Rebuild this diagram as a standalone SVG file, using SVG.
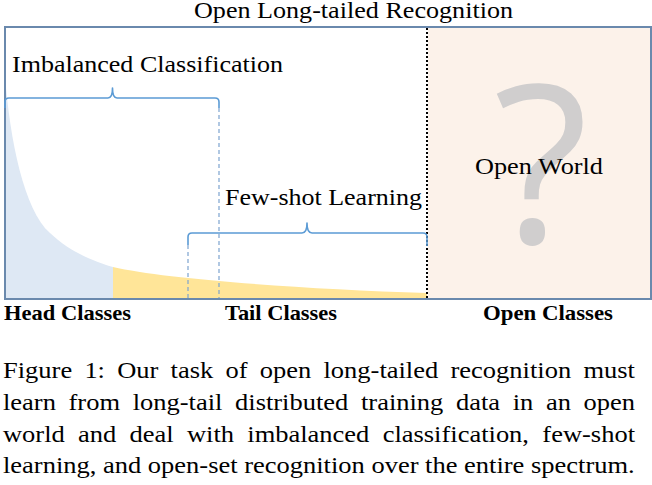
<svg xmlns="http://www.w3.org/2000/svg" width="652" height="485" viewBox="0 0 652 485">
  <style>
    text.serif { font-family: "Times New Roman", "Liberation Serif", Tinos, serif; fill: #000; }
    .lbl { font-size: 23px; }
    .bold { font-size: 21px; font-weight: bold; }
    .cap { font-size: 24px; }
    .brace { fill: none; stroke: #5B9BD5; stroke-width: 1.6; stroke-linejoin: round; }
    .dash { fill: none; stroke: #7CA3CF; stroke-width: 1.2; stroke-dasharray: 4 3; }
  </style>
  <rect width="652" height="485" fill="#ffffff"/>

  <g id="open-world">
    <rect x="428" y="28" width="222" height="270" fill="#FCF2EA"/>
    <text x="541" y="243" text-anchor="middle" font-family="'Open Sans', 'DejaVu Sans', sans-serif" font-size="220" fill="#D0CECE">?</text>
    <text class="serif" x="475" y="174" font-size="24" textLength="128" lengthAdjust="spacingAndGlyphs">Open World</text>
  </g>

  <g id="distribution">
    <path d="M5,76 C10,140 24,210 50,233 C70,252 95,262 113,267 L113,298 L5,298 Z" fill="#DEE8F4"/>
    <path d="M113,267 C165,279 300,289 427,293 L427,298 L113,298 Z" fill="#FFE598"/>
  </g>

  <g id="frame">
    <rect x="5" y="27" width="646" height="272" fill="none" stroke="#6A89AD" stroke-width="2"/>
  </g>

  <g id="connectors">
    <line x1="427" y1="28" x2="427" y2="298" stroke="#000" stroke-width="2" stroke-dasharray="2 2"/>
    <path class="brace" d="M5,108 L5,102 Q5,98 9,98 L108,98 Q112.5,98 112.5,88 Q112.5,98 117,98 L215,98 Q219,98 219,102 L219,108"/>
    <line class="dash" x1="219" y1="108" x2="219" y2="298"/>
    <path class="brace" d="M188,245 L188,237 Q188,233 192,233 L302,233 Q307,233 307,223 Q307,233 312,233 L423,233 Q427,233 427,237 L427,246"/>
    <line class="dash" x1="188" y1="245" x2="188" y2="298"/>
  </g>

  <g id="title">
    <text class="serif lbl" x="194" y="18" textLength="319" lengthAdjust="spacingAndGlyphs">Open Long-tailed Recognition</text>
  </g>
  <g id="imbalanced">
    <text class="serif lbl" x="12" y="72" textLength="271" lengthAdjust="spacingAndGlyphs">Imbalanced Classification</text>
  </g>
  <g id="fewshot">
    <text class="serif lbl" x="225" y="205" textLength="197" lengthAdjust="spacingAndGlyphs">Few-shot Learning</text>
  </g>
  <g id="head-classes">
    <text class="serif bold" x="4" y="320" textLength="127" lengthAdjust="spacingAndGlyphs">Head Classes</text>
  </g>
  <g id="tail-classes">
    <text class="serif bold" x="225" y="320" textLength="112" lengthAdjust="spacingAndGlyphs">Tail Classes</text>
  </g>
  <g id="open-classes">
    <text class="serif bold" x="483" y="320" textLength="130" lengthAdjust="spacingAndGlyphs">Open Classes</text>
  </g>

  <g id="caption" transform="translate(3,0) scale(1.104,1)">
    <text class="serif cap" y="378">
      <tspan x="0">Figure</tspan><tspan x="73.72">1:</tspan><tspan x="103.45">Our</tspan><tspan x="151.83">task</tspan><tspan x="201.55">of</tspan><tspan x="232.6">open</tspan><tspan x="290.32">long-tailed</tspan><tspan x="405.37">recognition</tspan><tspan x="525.75">must</tspan>
    </text>
    <text class="serif cap" y="410">
      <tspan x="0">learn</tspan><tspan x="59.38">from</tspan><tspan x="117.44">long-tail</tspan><tspan x="210.18">distributed</tspan><tspan x="324.25">training</tspan><tspan x="410.31">data</tspan><tspan x="461.69">in</tspan><tspan x="491.76">an</tspan><tspan x="525.82">open</tspan>
    </text>
    <text class="serif cap" y="442">
      <tspan x="0">world</tspan><tspan x="67.98">and</tspan><tspan x="114.63">deal</tspan><tspan x="166.6">with</tspan><tspan x="221.26">imbalanced</tspan><tspan x="343.89">classification,</tspan><tspan x="488.53">few-shot</tspan>
    </text>
    <text class="serif cap" x="0" y="473">learning, and open-set recognition over the entire spectrum.</text>
  </g>
</svg>
